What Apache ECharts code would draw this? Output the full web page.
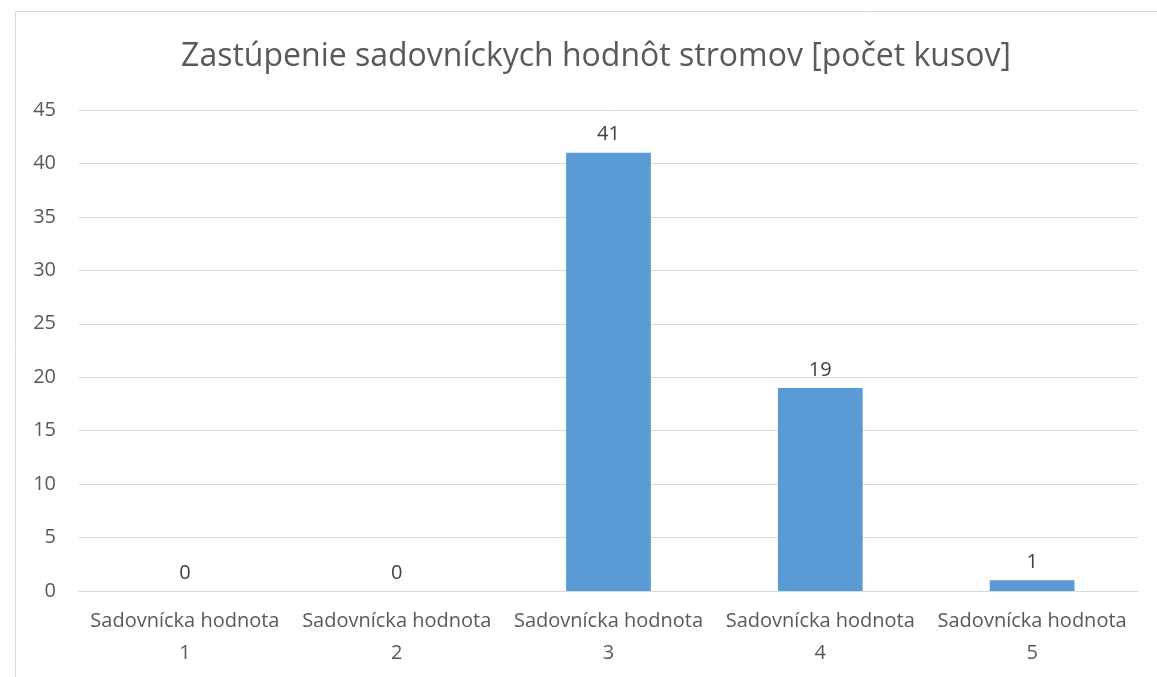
<!DOCTYPE html>
<html><head><meta charset="utf-8">
<script src="https://cdn.jsdelivr.net/npm/echarts@6/dist/echarts.min.js"></script>
<style>html,body{margin:0;padding:0;background:#fff;}#c{width:1157px;height:677px;}</style>
</head><body><div id="c"></div>
<script>
const categories = ['Sadovnícka hodnota\n1','Sadovnícka hodnota\n2','Sadovnícka hodnota\n3','Sadovnícka hodnota\n4','Sadovnícka hodnota\n5'];
const values = [0, 0, 41, 19, 1];
const titleText = 'Zastúpenie sadovníckych hodnôt stromov [počet kusov]';
const fontFam = 'Open Sans';
const chart = echarts.init(document.getElementById('c'));
chart.setOption({
  animation:false,
  title:{text:titleText,left:591,textAlign:'center',top:36,textStyle:{fontFamily:fontFam,fontSize:32,fontWeight:'normal',color:'#595959'}},
  graphic:[
    {type:'line',shape:{x1:15.5,y1:11.5,x2:1157,y2:11.5},style:{stroke:'#d9d9d9',lineWidth:1}},
    {type:'line',shape:{x1:15.5,y1:11.5,x2:15.5,y2:677},style:{stroke:'#d9d9d9',lineWidth:1}}
  ],
  grid:{left:79,right:19,top:110,bottom:86},
  xAxis:{type:'category',data:categories,axisTick:{show:false},
    axisLine:{lineStyle:{color:'#d9d9d9',width:1}},
    axisLabel:{color:'#595959',fontFamily:fontFam,fontSize:20,lineHeight:32,margin:14,interval:0}},
  yAxis:{type:'value',min:0,max:45,interval:5,
    axisLabel:{color:'#595959',fontFamily:fontFam,fontSize:20,margin:23},
    splitLine:{lineStyle:{color:'#d9d9d9',width:1}},axisLine:{show:false},axisTick:{show:false}},
  series:[{type:'bar',data:values,barWidth:'40%',itemStyle:{color:'#5B9BD5'},
    label:{show:true,position:'top',distance:8,color:'#404040',fontFamily:fontFam,fontSize:20}}]
});
</script></body></html>
